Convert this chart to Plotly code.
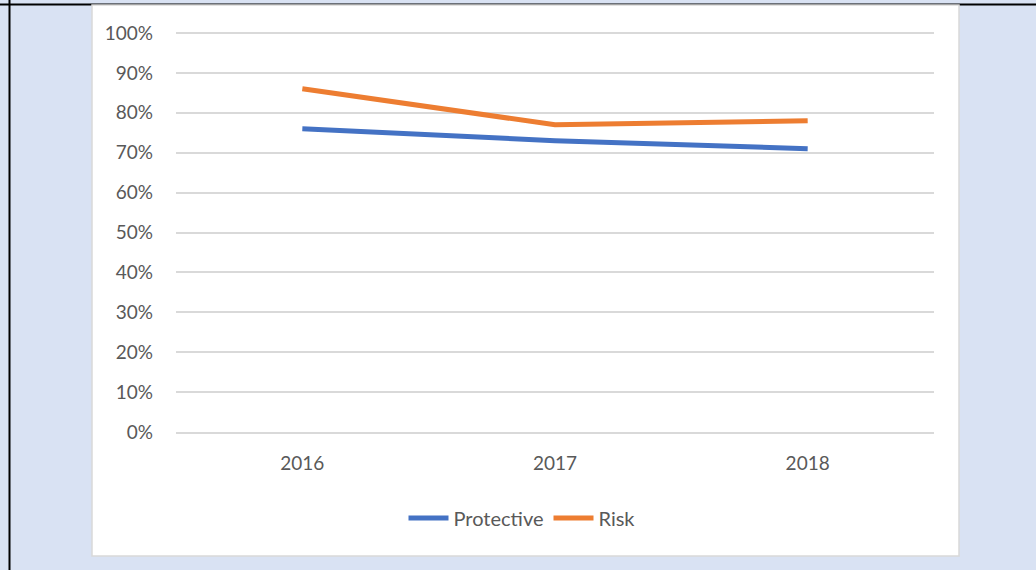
import plotly.graph_objects as go

years = ["2016", "2017", "2018"]
protective = [0.76, 0.73, 0.71]
risk = [0.86, 0.77, 0.78]
y_ticks = [i / 10 for i in range(11)]

# plot area in pixels (page is 1036 x 570); y range tops out at 101%
L, R, T, B = 176, 934, 29, 432
W, H = 1036, 570


def px(x):
    return (x - L) / (R - L)


def py(y):
    return (B - y) / (B - T)


fig = go.Figure()
fig.add_trace(go.Scatter(x=years, y=protective, name="Protective", mode="lines",
                         line=dict(color="#4472C4", width=5)))
fig.add_trace(go.Scatter(x=years, y=risk, name="Risk", mode="lines",
                         line=dict(color="#ED7D31", width=5)))

shapes = [
    # black table borders behind the chart
    dict(type="line", xref="paper", yref="paper", x0=px(0), x1=px(W), y0=py(4.5), y1=py(4.5),
         line=dict(color="black", width=2), layer="below"),
    dict(type="line", xref="paper", yref="paper", x0=px(9.5), x1=px(9.5), y0=py(0), y1=py(H),
         line=dict(color="black", width=2), layer="below"),
    # white chart box
    dict(type="rect", xref="paper", yref="paper", x0=px(92), x1=px(959), y0=py(5), y1=py(556),
         fillcolor="white", line=dict(color="#D9D9D9", width=1.5), layer="below"),
]

font = dict(family="Lato, 'Open Sans', sans-serif", size=19, color="#595959")

fig.update_layout(
    width=W, height=H,
    margin=dict(l=L, r=W - R, t=T, b=H - B, pad=0),
    paper_bgcolor="#D9E2F3",
    plot_bgcolor="white",
    font=font,
    shapes=shapes,
    showlegend=True,
    legend=dict(orientation="h", x=px(522), xanchor="center", y=py(518), yanchor="middle",
                bgcolor="rgba(0,0,0,0)", font=dict(size=20), itemwidth=40),
    xaxis=dict(range=[-0.5, 2.5], showgrid=False, showline=True, linecolor="#D9D9D9", linewidth=1.5,
               ticks="", ticklabelstandoff=13, fixedrange=True),
    yaxis=dict(range=[0, 1.01], tickvals=y_ticks, tickformat=".0%", showgrid=True,
               gridcolor="#D9D9D9", gridwidth=1.5, zeroline=False, showline=False,
               ticks="", ticklabelstandoff=22, fixedrange=True),
)

fig.write_html("out.html", config={"displayModeBar": False},
               post_script="document.body.style.margin='0';")
